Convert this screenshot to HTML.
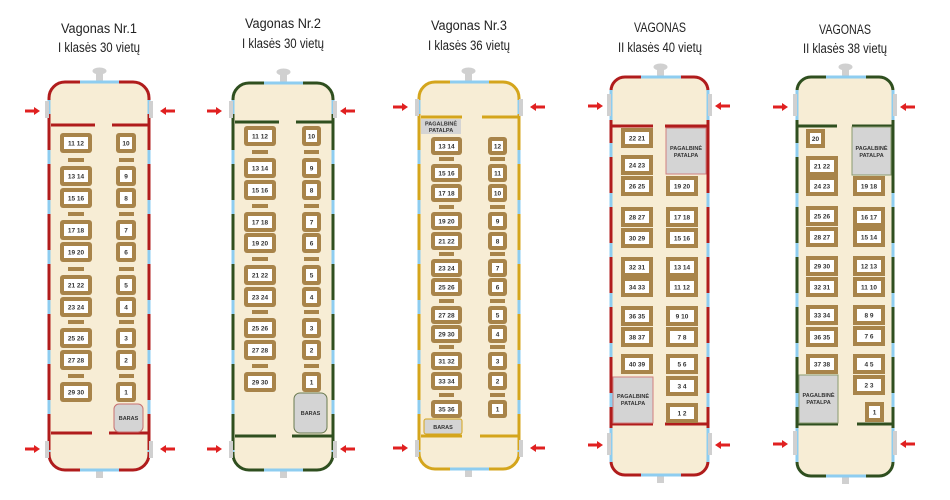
<!DOCTYPE html>
<html><head><meta charset="utf-8"><style>
body{margin:0;background:#fff}
svg{display:block}
.t{font-family:"Liberation Sans",sans-serif;font-size:13.5px;fill:#222;text-anchor:middle}
.n{font-family:"Liberation Sans",sans-serif;font-size:6.5px;fill:#333;text-anchor:middle;font-weight:bold}
.p{font-family:"Liberation Sans",sans-serif;font-size:5.5px;fill:#333;text-anchor:middle;font-weight:bold}
.s{fill:#a8844a}
.w{fill:#fff}
.g{fill:#d4d4d4}
.win{stroke:#8ecdf0;stroke-width:3;stroke-dasharray:14 36;fill:none}
.ar{fill:#e02020}
.st{fill:#d0d0d0}
</style></head><body>
<svg width="950" height="500" viewBox="0 0 950 500" xmlns="http://www.w3.org/2000/svg">
<defs>
<g id="arrL"><rect x="0" y="-1.5" width="10" height="3"/><polygon points="9,-4 15,0 9,4"/></g>
<g id="arrR"><rect x="5" y="-1.5" width="10" height="3"/><polygon points="6,-4 0,0 6,4"/></g>
</defs>

<!-- Titles -->
<text class="t" x="99" y="33" textLength="76" lengthAdjust="spacingAndGlyphs">Vagonas Nr.1</text>
<text class="t" x="99" y="52" textLength="82" lengthAdjust="spacingAndGlyphs">I klasės  30 vietų</text>
<text class="t" x="283" y="28" textLength="76" lengthAdjust="spacingAndGlyphs">Vagonas Nr.2</text>
<text class="t" x="283" y="48" textLength="82" lengthAdjust="spacingAndGlyphs">I klasės  30 vietų</text>
<text class="t" x="469" y="30" textLength="76" lengthAdjust="spacingAndGlyphs">Vagonas Nr.3</text>
<text class="t" x="469" y="50" textLength="82" lengthAdjust="spacingAndGlyphs">I klasės  36 vietų</text>
<text class="t" x="660" y="32" textLength="52" lengthAdjust="spacingAndGlyphs">VAGONAS</text>
<text class="t" x="660" y="52" textLength="84" lengthAdjust="spacingAndGlyphs">II klasės  40 vietų</text>
<text class="t" x="845" y="34" textLength="52" lengthAdjust="spacingAndGlyphs">VAGONAS</text>
<text class="t" x="845" y="53" textLength="84" lengthAdjust="spacingAndGlyphs">II klasės  38 vietų</text>

<!-- ============ CAR 1 ============ -->
<g>
<rect x="96" y="68" width="7" height="14" class="st" rx="2"/><ellipse cx="99.5" cy="71" rx="7" ry="3.5" class="st"/>
<rect x="96" y="470" width="7" height="8" class="st"/>
<rect x="49" y="82" width="100" height="388" rx="16" fill="#f7edd5" stroke="#b01c1c" stroke-width="3"/>
<line x1="80" y1="82" x2="119" y2="82" stroke="#8ecdf0" stroke-width="3"/>
<line x1="80" y1="470" x2="119" y2="470" stroke="#8ecdf0" stroke-width="3"/>
<line x1="49" y1="100" x2="49" y2="452" class="win"/>
<line x1="149" y1="100" x2="149" y2="452" class="win"/>
<rect x="45" y="101" width="4" height="17" class="st"/><rect x="149" y="101" width="4" height="17" class="st"/>
<rect x="45" y="441" width="4" height="17" class="st"/><rect x="149" y="441" width="4" height="17" class="st"/>
<use href="#arrL" class="ar" x="25" y="111"/><use href="#arrR" class="ar" x="160" y="111"/>
<use href="#arrL" class="ar" x="25" y="449"/><use href="#arrR" class="ar" x="160" y="449"/>
<line x1="51" y1="125" x2="95" y2="125" stroke="#b01c1c" stroke-width="3"/>
<line x1="112" y1="125" x2="148" y2="125" stroke="#b01c1c" stroke-width="3"/>
<line x1="51" y1="433" x2="92" y2="433" stroke="#b01c1c" stroke-width="3"/>
<line x1="109" y1="433" x2="148" y2="433" stroke="#b01c1c" stroke-width="3"/>
<g>
<rect class="s" x="60" y="133" width="32" height="20" rx="3"/><rect class="w" x="64" y="137" width="24" height="12"/><text class="n" x="76" y="145.5">11  12</text>
<rect class="s" x="60" y="166" width="32" height="20" rx="3"/><rect class="w" x="64" y="170" width="24" height="12"/><text class="n" x="76" y="178.5">13  14</text>
<rect class="s" x="60" y="188" width="32" height="20" rx="3"/><rect class="w" x="64" y="192" width="24" height="12"/><text class="n" x="76" y="200.5">15  16</text>
<rect class="s" x="60" y="220" width="32" height="20" rx="3"/><rect class="w" x="64" y="224" width="24" height="12"/><text class="n" x="76" y="232.5">17  18</text>
<rect class="s" x="60" y="242" width="32" height="20" rx="3"/><rect class="w" x="64" y="246" width="24" height="12"/><text class="n" x="76" y="254.5">19  20</text>
<rect class="s" x="60" y="275" width="32" height="20" rx="3"/><rect class="w" x="64" y="279" width="24" height="12"/><text class="n" x="76" y="287.5">21  22</text>
<rect class="s" x="60" y="297" width="32" height="20" rx="3"/><rect class="w" x="64" y="301" width="24" height="12"/><text class="n" x="76" y="309.5">23  24</text>
<rect class="s" x="60" y="328" width="32" height="20" rx="3"/><rect class="w" x="64" y="332" width="24" height="12"/><text class="n" x="76" y="340.5">25  26</text>
<rect class="s" x="60" y="350" width="32" height="20" rx="3"/><rect class="w" x="64" y="354" width="24" height="12"/><text class="n" x="76" y="362.5">27  28</text>
<rect class="s" x="60" y="382" width="32" height="20" rx="3"/><rect class="w" x="64" y="386" width="24" height="12"/><text class="n" x="76" y="394.5">29  30</text>
<rect class="s" x="116" y="133" width="20" height="20" rx="3"/><rect class="w" x="120" y="137" width="12" height="12"/><text class="n" x="126" y="145.5">10</text>
<rect class="s" x="116" y="166" width="20" height="20" rx="3"/><rect class="w" x="120" y="170" width="12" height="12"/><text class="n" x="126" y="178.5">9</text>
<rect class="s" x="116" y="188" width="20" height="20" rx="3"/><rect class="w" x="120" y="192" width="12" height="12"/><text class="n" x="126" y="200.5">8</text>
<rect class="s" x="116" y="220" width="20" height="20" rx="3"/><rect class="w" x="120" y="224" width="12" height="12"/><text class="n" x="126" y="232.5">7</text>
<rect class="s" x="116" y="242" width="20" height="20" rx="3"/><rect class="w" x="120" y="246" width="12" height="12"/><text class="n" x="126" y="254.5">6</text>
<rect class="s" x="116" y="275" width="20" height="20" rx="3"/><rect class="w" x="120" y="279" width="12" height="12"/><text class="n" x="126" y="287.5">5</text>
<rect class="s" x="116" y="297" width="20" height="20" rx="3"/><rect class="w" x="120" y="301" width="12" height="12"/><text class="n" x="126" y="309.5">4</text>
<rect class="s" x="116" y="328" width="20" height="20" rx="3"/><rect class="w" x="120" y="332" width="12" height="12"/><text class="n" x="126" y="340.5">3</text>
<rect class="s" x="116" y="350" width="20" height="20" rx="3"/><rect class="w" x="120" y="354" width="12" height="12"/><text class="n" x="126" y="362.5">2</text>
<rect class="s" x="116" y="382" width="20" height="20" rx="3"/><rect class="w" x="120" y="386" width="12" height="12"/><text class="n" x="126" y="394.5">1</text>
<g class="s"><rect x="68" y="158" width="16" height="4"/><rect x="68" y="212" width="16" height="4"/><rect x="68" y="267" width="16" height="4"/><rect x="68" y="320" width="16" height="4"/><rect x="68" y="374" width="16" height="4"/>
<rect x="119" y="158" width="15" height="4"/><rect x="119" y="212" width="15" height="4"/><rect x="119" y="267" width="15" height="4"/><rect x="119" y="320" width="15" height="4"/><rect x="119" y="374" width="15" height="4"/></g>
<rect x="114" y="404" width="29" height="28" rx="5" class="g" stroke="#c87070" stroke-width="1"/><text class="p" x="128.5" y="420">BARAS</text>
</g>
</g>

<!-- ============ CAR 2 ============ -->
<g>
<rect x="280" y="69" width="7" height="14" class="st" rx="2"/><ellipse cx="283.5" cy="72" rx="7" ry="3.5" class="st"/>
<rect x="280" y="470" width="7" height="8" class="st"/>
<rect x="233" y="83" width="100" height="387" rx="16" fill="#f7edd5" stroke="#2f4f1f" stroke-width="3"/>
<line x1="264" y1="83" x2="303" y2="83" stroke="#8ecdf0" stroke-width="3"/>
<line x1="264" y1="470" x2="303" y2="470" stroke="#8ecdf0" stroke-width="3"/>
<line x1="233" y1="100" x2="233" y2="452" class="win"/>
<line x1="333" y1="100" x2="333" y2="452" class="win"/>
<rect x="229" y="101" width="4" height="17" class="st"/><rect x="333" y="101" width="4" height="17" class="st"/>
<rect x="229" y="441" width="4" height="17" class="st"/><rect x="333" y="441" width="4" height="17" class="st"/>
<use href="#arrL" class="ar" x="207" y="111"/><use href="#arrR" class="ar" x="340" y="111"/>
<use href="#arrL" class="ar" x="207" y="449"/><use href="#arrR" class="ar" x="340" y="449"/>
<line x1="235" y1="122" x2="279" y2="122" stroke="#2f4f1f" stroke-width="3"/>
<line x1="296" y1="122" x2="332" y2="122" stroke="#2f4f1f" stroke-width="3"/>
<line x1="235" y1="436" x2="276" y2="436" stroke="#2f4f1f" stroke-width="3"/>
<line x1="292" y1="436" x2="332" y2="436" stroke="#2f4f1f" stroke-width="3"/>
<rect class="s" x="244" y="126" width="32" height="20" rx="3"/><rect class="w" x="248" y="130" width="24" height="12"/><text class="n" x="260" y="138.5">11  12</text>
<rect class="s" x="244" y="158" width="32" height="20" rx="3"/><rect class="w" x="248" y="162" width="24" height="12"/><text class="n" x="260" y="170.5">13  14</text>
<rect class="s" x="244" y="180" width="32" height="20" rx="3"/><rect class="w" x="248" y="184" width="24" height="12"/><text class="n" x="260" y="192.5">15  16</text>
<rect class="s" x="244" y="212" width="32" height="20" rx="3"/><rect class="w" x="248" y="216" width="24" height="12"/><text class="n" x="260" y="224.5">17  18</text>
<rect class="s" x="244" y="233" width="32" height="20" rx="3"/><rect class="w" x="248" y="237" width="24" height="12"/><text class="n" x="260" y="245.5">19  20</text>
<rect class="s" x="244" y="265" width="32" height="20" rx="3"/><rect class="w" x="248" y="269" width="24" height="12"/><text class="n" x="260" y="277.5">21  22</text>
<rect class="s" x="244" y="287" width="32" height="20" rx="3"/><rect class="w" x="248" y="291" width="24" height="12"/><text class="n" x="260" y="299.5">23  24</text>
<rect class="s" x="244" y="318" width="32" height="20" rx="3"/><rect class="w" x="248" y="322" width="24" height="12"/><text class="n" x="260" y="330.5">25  26</text>
<rect class="s" x="244" y="340" width="32" height="20" rx="3"/><rect class="w" x="248" y="344" width="24" height="12"/><text class="n" x="260" y="352.5">27  28</text>
<rect class="s" x="244" y="372" width="32" height="20" rx="3"/><rect class="w" x="248" y="376" width="24" height="12"/><text class="n" x="260" y="384.5">29  30</text>
<rect class="s" x="302" y="126" width="19" height="20" rx="3"/><rect class="w" x="306" y="130" width="11" height="12"/><text class="n" x="311.5" y="138.5">10</text>
<rect class="s" x="302" y="158" width="19" height="20" rx="3"/><rect class="w" x="306" y="162" width="11" height="12"/><text class="n" x="311.5" y="170.5">9</text>
<rect class="s" x="302" y="180" width="19" height="20" rx="3"/><rect class="w" x="306" y="184" width="11" height="12"/><text class="n" x="311.5" y="192.5">8</text>
<rect class="s" x="302" y="212" width="19" height="20" rx="3"/><rect class="w" x="306" y="216" width="11" height="12"/><text class="n" x="311.5" y="224.5">7</text>
<rect class="s" x="302" y="233" width="19" height="20" rx="3"/><rect class="w" x="306" y="237" width="11" height="12"/><text class="n" x="311.5" y="245.5">6</text>
<rect class="s" x="302" y="265" width="19" height="20" rx="3"/><rect class="w" x="306" y="269" width="11" height="12"/><text class="n" x="311.5" y="277.5">5</text>
<rect class="s" x="302" y="287" width="19" height="20" rx="3"/><rect class="w" x="306" y="291" width="11" height="12"/><text class="n" x="311.5" y="299.5">4</text>
<rect class="s" x="302" y="318" width="19" height="20" rx="3"/><rect class="w" x="306" y="322" width="11" height="12"/><text class="n" x="311.5" y="330.5">3</text>
<rect class="s" x="302" y="340" width="19" height="20" rx="3"/><rect class="w" x="306" y="344" width="11" height="12"/><text class="n" x="311.5" y="352.5">2</text>
<rect class="s" x="302" y="372" width="19" height="20" rx="3"/><rect class="w" x="306" y="376" width="11" height="12"/><text class="n" x="311.5" y="384.5">1</text>
<g class="s"><rect x="252" y="150" width="16" height="4"/><rect x="252" y="204" width="16" height="4"/><rect x="252" y="257" width="16" height="4"/><rect x="252" y="310" width="16" height="4"/><rect x="252" y="364" width="16" height="4"/>
<rect x="304" y="150" width="15" height="4"/><rect x="304" y="204" width="15" height="4"/><rect x="304" y="257" width="15" height="4"/><rect x="304" y="310" width="15" height="4"/><rect x="304" y="364" width="15" height="4"/></g>
<rect x="294" y="393" width="33" height="40" rx="6" class="g" stroke="#6a7a50" stroke-width="1"/><text class="p" x="310.5" y="415">BARAS</text>
</g>

<!-- ============ CAR 3 ============ -->
<g>
<rect x="465" y="68" width="7" height="14" class="st" rx="2"/><ellipse cx="468.5" cy="71" rx="7" ry="3.5" class="st"/>
<rect x="465" y="469" width="7" height="8" class="st"/>
<rect x="419" y="82" width="100" height="387" rx="16" fill="#f7edd5" stroke="#d4a51c" stroke-width="3"/>
<line x1="450" y1="82" x2="489" y2="82" stroke="#8ecdf0" stroke-width="3"/>
<line x1="450" y1="469" x2="489" y2="469" stroke="#8ecdf0" stroke-width="3"/>
<line x1="419" y1="100" x2="419" y2="452" class="win"/>
<line x1="519" y1="100" x2="519" y2="452" class="win"/>
<rect x="415" y="99" width="4" height="17" class="st"/><rect x="519" y="99" width="4" height="17" class="st"/>
<rect x="415" y="440" width="4" height="17" class="st"/><rect x="519" y="440" width="4" height="17" class="st"/>
<use href="#arrL" class="ar" x="393" y="107"/><use href="#arrR" class="ar" x="530" y="107"/>
<use href="#arrL" class="ar" x="393" y="448"/><use href="#arrR" class="ar" x="530" y="448"/>
<line x1="421" y1="117" x2="462" y2="117" stroke="#d4a51c" stroke-width="3"/>
<line x1="482" y1="117" x2="518" y2="117" stroke="#d4a51c" stroke-width="3"/>
<line x1="421" y1="436" x2="462" y2="436" stroke="#d4a51c" stroke-width="3"/>
<line x1="480" y1="436" x2="518" y2="436" stroke="#d4a51c" stroke-width="3"/>
<rect x="421" y="119" width="40" height="15" class="g"/><text class="p" x="441" y="125.5">PAGALBINĖ</text><text class="p" x="441" y="132">PATALPA</text>
<rect class="s" x="431" y="137" width="31" height="18" rx="3"/><rect class="w" x="435" y="141" width="23" height="10"/><text class="n" x="446.5" y="148.5">13  14</text>
<rect class="s" x="431" y="164" width="31" height="18" rx="3"/><rect class="w" x="435" y="168" width="23" height="10"/><text class="n" x="446.5" y="175.5">15  16</text>
<rect class="s" x="431" y="184" width="31" height="18" rx="3"/><rect class="w" x="435" y="188" width="23" height="10"/><text class="n" x="446.5" y="195.5">17  18</text>
<rect class="s" x="431" y="212" width="31" height="18" rx="3"/><rect class="w" x="435" y="216" width="23" height="10"/><text class="n" x="446.5" y="223.5">19  20</text>
<rect class="s" x="431" y="232" width="31" height="18" rx="3"/><rect class="w" x="435" y="236" width="23" height="10"/><text class="n" x="446.5" y="243.5">21  22</text>
<rect class="s" x="431" y="259" width="31" height="18" rx="3"/><rect class="w" x="435" y="263" width="23" height="10"/><text class="n" x="446.5" y="270.5">23  24</text>
<rect class="s" x="431" y="278" width="31" height="18" rx="3"/><rect class="w" x="435" y="282" width="23" height="10"/><text class="n" x="446.5" y="289.5">25  26</text>
<rect class="s" x="431" y="306" width="31" height="18" rx="3"/><rect class="w" x="435" y="310" width="23" height="10"/><text class="n" x="446.5" y="317.5">27  28</text>
<rect class="s" x="431" y="325" width="31" height="18" rx="3"/><rect class="w" x="435" y="329" width="23" height="10"/><text class="n" x="446.5" y="336.5">29  30</text>
<rect class="s" x="431" y="352" width="31" height="18" rx="3"/><rect class="w" x="435" y="356" width="23" height="10"/><text class="n" x="446.5" y="363.5">31  32</text>
<rect class="s" x="431" y="372" width="31" height="18" rx="3"/><rect class="w" x="435" y="376" width="23" height="10"/><text class="n" x="446.5" y="383.5">33  34</text>
<rect class="s" x="431" y="400" width="31" height="18" rx="3"/><rect class="w" x="435" y="404" width="23" height="10"/><text class="n" x="446.5" y="411.5">35  36</text>
<rect class="s" x="488" y="137" width="19" height="18" rx="3"/><rect class="w" x="492" y="141" width="11" height="10"/><text class="n" x="497.5" y="148.5">12</text>
<rect class="s" x="488" y="164" width="19" height="18" rx="3"/><rect class="w" x="492" y="168" width="11" height="10"/><text class="n" x="497.5" y="175.5">11</text>
<rect class="s" x="488" y="184" width="19" height="18" rx="3"/><rect class="w" x="492" y="188" width="11" height="10"/><text class="n" x="497.5" y="195.5">10</text>
<rect class="s" x="488" y="212" width="19" height="18" rx="3"/><rect class="w" x="492" y="216" width="11" height="10"/><text class="n" x="497.5" y="223.5">9</text>
<rect class="s" x="488" y="232" width="19" height="18" rx="3"/><rect class="w" x="492" y="236" width="11" height="10"/><text class="n" x="497.5" y="243.5">8</text>
<rect class="s" x="488" y="259" width="19" height="18" rx="3"/><rect class="w" x="492" y="263" width="11" height="10"/><text class="n" x="497.5" y="270.5">7</text>
<rect class="s" x="488" y="278" width="19" height="18" rx="3"/><rect class="w" x="492" y="282" width="11" height="10"/><text class="n" x="497.5" y="289.5">6</text>
<rect class="s" x="488" y="306" width="19" height="18" rx="3"/><rect class="w" x="492" y="310" width="11" height="10"/><text class="n" x="497.5" y="317.5">5</text>
<rect class="s" x="488" y="325" width="19" height="18" rx="3"/><rect class="w" x="492" y="329" width="11" height="10"/><text class="n" x="497.5" y="336.5">4</text>
<rect class="s" x="488" y="352" width="19" height="18" rx="3"/><rect class="w" x="492" y="356" width="11" height="10"/><text class="n" x="497.5" y="363.5">3</text>
<rect class="s" x="488" y="372" width="19" height="18" rx="3"/><rect class="w" x="492" y="376" width="11" height="10"/><text class="n" x="497.5" y="383.5">2</text>
<rect class="s" x="488" y="400" width="19" height="18" rx="3"/><rect class="w" x="492" y="404" width="11" height="10"/><text class="n" x="497.5" y="411.5">1</text>
<g class="s"><rect x="439" y="157" width="15" height="4"/><rect x="439" y="205" width="15" height="4"/><rect x="439" y="252" width="15" height="4"/><rect x="439" y="299" width="15" height="4"/><rect x="439" y="345" width="15" height="4"/><rect x="439" y="393" width="15" height="4"/>
<rect x="490" y="157" width="15" height="4"/><rect x="490" y="205" width="15" height="4"/><rect x="490" y="252" width="15" height="4"/><rect x="490" y="299" width="15" height="4"/><rect x="490" y="345" width="15" height="4"/><rect x="490" y="393" width="15" height="4"/></g>
<rect x="424" y="419" width="38" height="15" rx="2" class="g" stroke="#d4a51c" stroke-width="1"/><text class="p" x="443" y="429">BARAS</text>
</g>

<!-- ============ CAR 4 ============ -->
<g>
<rect x="657" y="64" width="7" height="13" class="st" rx="2"/><ellipse cx="660.5" cy="67" rx="7" ry="3.5" class="st"/>
<rect x="657" y="475" width="7" height="8" class="st"/>
<rect x="611" y="77" width="97" height="398" rx="14" fill="#f7edd5" stroke="#b01c1c" stroke-width="3"/>
<line x1="641" y1="77" x2="681" y2="77" stroke="#8ecdf0" stroke-width="3"/>
<line x1="641" y1="475" x2="681" y2="475" stroke="#8ecdf0" stroke-width="3"/>
<line x1="611" y1="90" x2="611" y2="120" stroke="#8ecdf0" stroke-width="3"/>
<line x1="708" y1="90" x2="708" y2="120" stroke="#8ecdf0" stroke-width="3"/>
<line x1="611" y1="428" x2="611" y2="462" stroke="#8ecdf0" stroke-width="3"/>
<line x1="708" y1="428" x2="708" y2="462" stroke="#8ecdf0" stroke-width="3"/>
<line x1="611" y1="143" x2="611" y2="420" class="win"/>
<line x1="708" y1="193" x2="708" y2="420" class="win"/>
<rect x="607" y="94" width="4" height="22" class="st"/><rect x="708" y="94" width="4" height="22" class="st"/>
<rect x="607" y="433" width="4" height="22" class="st"/><rect x="708" y="433" width="4" height="22" class="st"/>
<use href="#arrL" class="ar" x="588" y="106"/><use href="#arrR" class="ar" x="715" y="106"/>
<use href="#arrL" class="ar" x="588" y="445"/><use href="#arrR" class="ar" x="715" y="445"/>
<line x1="612" y1="126" x2="653" y2="126" stroke="#b01c1c" stroke-width="3"/>
<line x1="665" y1="126" x2="707" y2="126" stroke="#b01c1c" stroke-width="3"/>
<line x1="612" y1="424" x2="653" y2="424" stroke="#b01c1c" stroke-width="3"/>
<line x1="665" y1="424" x2="707" y2="424" stroke="#b01c1c" stroke-width="3"/>
<rect x="666" y="128" width="40" height="46" class="g" stroke="#d08080" stroke-width="1"/><text class="p" x="686" y="150">PAGALBINĖ</text><text class="p" x="686" y="157">PATALPA</text>
<rect x="613" y="377" width="40" height="46" class="g" stroke="#d08080" stroke-width="1"/><text class="p" x="633" y="398">PAGALBINĖ</text><text class="p" x="633" y="405">PATALPA</text>
<rect class="s" x="621" y="128" width="32" height="20"/><rect class="w" x="625" y="132" width="24" height="12"/><text class="n" x="637" y="140.5">22  21</text>
<rect class="s" x="621" y="155" width="32" height="20"/><rect class="w" x="625" y="159" width="24" height="12"/><text class="n" x="637" y="167.5">24  23</text>
<rect class="s" x="621" y="176" width="32" height="20"/><rect class="w" x="625" y="180" width="24" height="12"/><text class="n" x="637" y="188.5">26  25</text>
<rect class="s" x="621" y="207" width="32" height="20"/><rect class="w" x="625" y="211" width="24" height="12"/><text class="n" x="637" y="219.5">28  27</text>
<rect class="s" x="621" y="228" width="32" height="20"/><rect class="w" x="625" y="232" width="24" height="12"/><text class="n" x="637" y="240.5">30  29</text>
<rect class="s" x="621" y="257" width="32" height="20"/><rect class="w" x="625" y="261" width="24" height="12"/><text class="n" x="637" y="269.5">32  31</text>
<rect class="s" x="621" y="277" width="32" height="20"/><rect class="w" x="625" y="281" width="24" height="12"/><text class="n" x="637" y="289.5">34  33</text>
<rect class="s" x="621" y="306" width="32" height="20"/><rect class="w" x="625" y="310" width="24" height="12"/><text class="n" x="637" y="318.5">36  35</text>
<rect class="s" x="621" y="327" width="32" height="20"/><rect class="w" x="625" y="331" width="24" height="12"/><text class="n" x="637" y="339.5">38  37</text>
<rect class="s" x="621" y="354" width="32" height="20"/><rect class="w" x="625" y="358" width="24" height="12"/><text class="n" x="637" y="366.5">40  39</text>
<rect class="s" x="666" y="176" width="32" height="20"/><rect class="w" x="670" y="180" width="24" height="12"/><text class="n" x="682" y="188.5">19  20</text>
<rect class="s" x="666" y="207" width="32" height="20"/><rect class="w" x="670" y="211" width="24" height="12"/><text class="n" x="682" y="219.5">17  18</text>
<rect class="s" x="666" y="228" width="32" height="20"/><rect class="w" x="670" y="232" width="24" height="12"/><text class="n" x="682" y="240.5">15  16</text>
<rect class="s" x="666" y="257" width="32" height="20"/><rect class="w" x="670" y="261" width="24" height="12"/><text class="n" x="682" y="269.5">13  14</text>
<rect class="s" x="666" y="277" width="32" height="20"/><rect class="w" x="670" y="281" width="24" height="12"/><text class="n" x="682" y="289.5">11  12</text>
<rect class="s" x="666" y="306" width="32" height="20"/><rect class="w" x="670" y="310" width="24" height="12"/><text class="n" x="682" y="318.5">9  10</text>
<rect class="s" x="666" y="327" width="32" height="20"/><rect class="w" x="670" y="331" width="24" height="12"/><text class="n" x="682" y="339.5">7  8</text>
<rect class="s" x="666" y="354" width="32" height="20"/><rect class="w" x="670" y="358" width="24" height="12"/><text class="n" x="682" y="366.5">5  6</text>
<rect class="s" x="666" y="376" width="32" height="20"/><rect class="w" x="670" y="380" width="24" height="12"/><text class="n" x="682" y="388.5">3  4</text>
<rect class="s" x="666" y="403" width="32" height="20"/><rect class="w" x="670" y="407" width="24" height="12"/><text class="n" x="682" y="415.5">1  2</text>
</g>

<!-- ============ CAR 5 ============ -->
<g>
<rect x="842" y="64" width="7" height="13" class="st" rx="2"/><ellipse cx="845.5" cy="67" rx="7" ry="3.5" class="st"/>
<rect x="842" y="476" width="7" height="8" class="st"/>
<rect x="797" y="77" width="96" height="399" rx="14" fill="#f7edd5" stroke="#2f4f1f" stroke-width="3"/>
<line x1="826" y1="77" x2="866" y2="77" stroke="#8ecdf0" stroke-width="3"/>
<line x1="826" y1="476" x2="866" y2="476" stroke="#8ecdf0" stroke-width="3"/>
<line x1="797" y1="90" x2="797" y2="120" stroke="#8ecdf0" stroke-width="3"/>
<line x1="893" y1="90" x2="893" y2="120" stroke="#8ecdf0" stroke-width="3"/>
<line x1="797" y1="428" x2="797" y2="462" stroke="#8ecdf0" stroke-width="3"/>
<line x1="893" y1="428" x2="893" y2="462" stroke="#8ecdf0" stroke-width="3"/>
<line x1="797" y1="143" x2="797" y2="420" class="win"/>
<line x1="893" y1="193" x2="893" y2="420" class="win"/>
<rect x="793" y="94" width="4" height="22" class="st"/><rect x="893" y="94" width="4" height="22" class="st"/>
<rect x="793" y="431" width="4" height="24" class="st"/><rect x="893" y="431" width="4" height="24" class="st"/>
<use href="#arrL" class="ar" x="773" y="107"/><use href="#arrR" class="ar" x="900" y="107"/>
<use href="#arrL" class="ar" x="773" y="444"/><use href="#arrR" class="ar" x="900" y="444"/>
<line x1="798" y1="126" x2="837" y2="126" stroke="#2f4f1f" stroke-width="3"/>
<line x1="852" y1="126" x2="892" y2="126" stroke="#2f4f1f" stroke-width="3"/>
<line x1="798" y1="424" x2="838" y2="424" stroke="#2f4f1f" stroke-width="3"/>
<line x1="857" y1="424" x2="892" y2="424" stroke="#2f4f1f" stroke-width="3"/>
<rect x="852" y="127" width="39" height="48" class="g" stroke="#8a9a70" stroke-width="1"/><text class="p" x="871.5" y="150">PAGALBINĖ</text><text class="p" x="871.5" y="157">PATALPA</text>
<rect x="799" y="375" width="39" height="48" class="g" stroke="#8a9a70" stroke-width="1"/><text class="p" x="818.5" y="397">PAGALBINĖ</text><text class="p" x="818.5" y="404">PATALPA</text>
<rect class="s" x="806" y="129" width="19" height="19"/><rect class="w" x="810" y="133" width="11" height="11"/><text class="n" x="815.5" y="141">20</text>
<rect class="s" x="806" y="156" width="32" height="20"/><rect class="w" x="810" y="160" width="24" height="12"/><text class="n" x="822" y="168.5">21  22</text>
<rect class="s" x="806" y="176" width="32" height="20"/><rect class="w" x="810" y="180" width="24" height="12"/><text class="n" x="822" y="188.5">24  23</text>
<rect class="s" x="806" y="206" width="32" height="20"/><rect class="w" x="810" y="210" width="24" height="12"/><text class="n" x="822" y="218.5">25  26</text>
<rect class="s" x="806" y="227" width="32" height="20"/><rect class="w" x="810" y="231" width="24" height="12"/><text class="n" x="822" y="239.5">28  27</text>
<rect class="s" x="806" y="256" width="32" height="20"/><rect class="w" x="810" y="260" width="24" height="12"/><text class="n" x="822" y="268.5">29  30</text>
<rect class="s" x="806" y="277" width="32" height="20"/><rect class="w" x="810" y="281" width="24" height="12"/><text class="n" x="822" y="289.5">32  31</text>
<rect class="s" x="806" y="305" width="32" height="20"/><rect class="w" x="810" y="309" width="24" height="12"/><text class="n" x="822" y="317.5">33  34</text>
<rect class="s" x="806" y="327" width="32" height="20"/><rect class="w" x="810" y="331" width="24" height="12"/><text class="n" x="822" y="339.5">36  35</text>
<rect class="s" x="806" y="354" width="32" height="20"/><rect class="w" x="810" y="358" width="24" height="12"/><text class="n" x="822" y="366.5">37  38</text>
<rect class="s" x="853" y="176" width="32" height="20"/><rect class="w" x="857" y="180" width="24" height="12"/><text class="n" x="869" y="188.5">19  18</text>
<rect class="s" x="853" y="207" width="32" height="20"/><rect class="w" x="857" y="211" width="24" height="12"/><text class="n" x="869" y="219.5">16  17</text>
<rect class="s" x="853" y="227" width="32" height="20"/><rect class="w" x="857" y="231" width="24" height="12"/><text class="n" x="869" y="239.5">15  14</text>
<rect class="s" x="853" y="256" width="32" height="20"/><rect class="w" x="857" y="260" width="24" height="12"/><text class="n" x="869" y="268.5">12  13</text>
<rect class="s" x="853" y="277" width="32" height="20"/><rect class="w" x="857" y="281" width="24" height="12"/><text class="n" x="869" y="289.5">11  10</text>
<rect class="s" x="853" y="305" width="32" height="20"/><rect class="w" x="857" y="309" width="24" height="12"/><text class="n" x="869" y="317.5">8  9</text>
<rect class="s" x="853" y="326" width="32" height="20"/><rect class="w" x="857" y="330" width="24" height="12"/><text class="n" x="869" y="338.5">7  6</text>
<rect class="s" x="853" y="354" width="32" height="20"/><rect class="w" x="857" y="358" width="24" height="12"/><text class="n" x="869" y="366.5">4  5</text>
<rect class="s" x="853" y="375" width="32" height="20"/><rect class="w" x="857" y="379" width="24" height="12"/><text class="n" x="869" y="387.5">2  3</text>
<rect class="s" x="865" y="402" width="19" height="20"/><rect class="w" x="869" y="406" width="11" height="12"/><text class="n" x="874.5" y="414.5">1</text>
</g>
</svg>
</body></html>
